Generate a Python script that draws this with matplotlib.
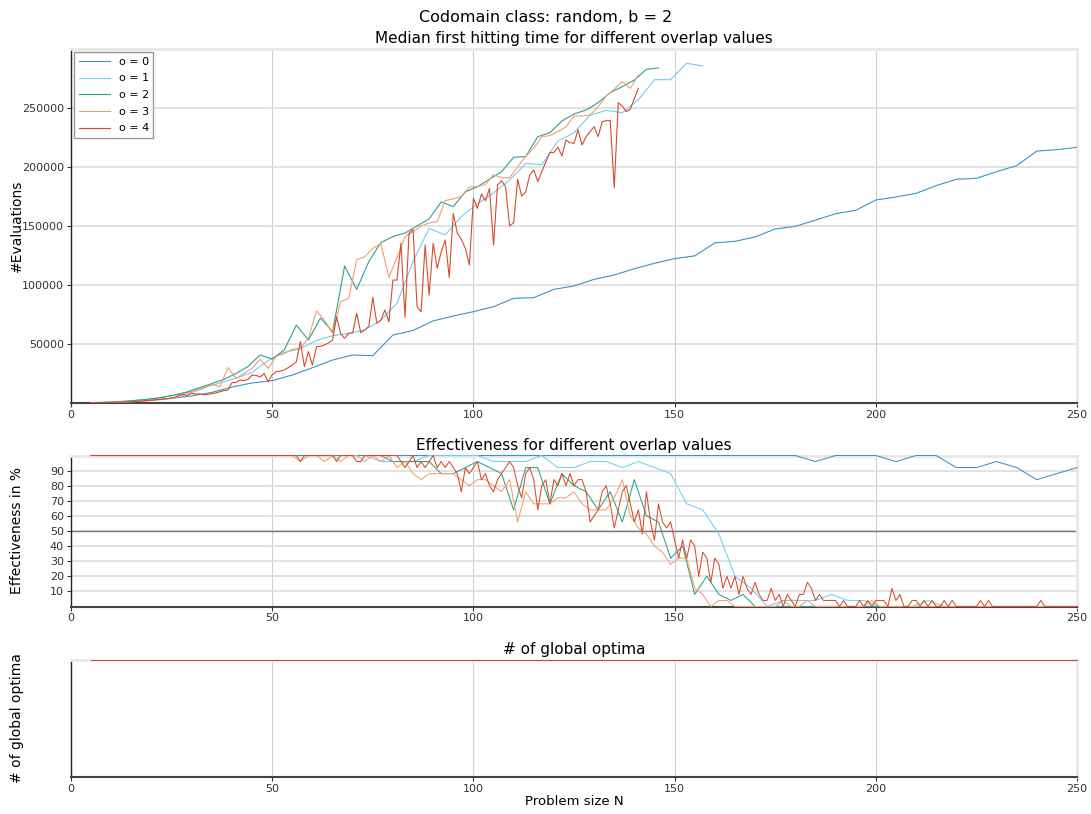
import matplotlib
matplotlib.use("Agg")
import matplotlib.pyplot as plt

# ---- data ----
overlaps = [0, 1, 2, 3, 4]
colors = ["#3a93c8", "#6ccff6", "#2aa38b", "#f59d6e", "#d84b2a"]

# x positions (problem size N) per overlap value
n_o0 = list(range(5, 251, 5))
n_o1 = list(range(5, 250, 4))
n_o2 = list(range(5, 249, 3))
n_o3 = list(range(5, 250, 2))
n_o4 = list(range(5, 251, 1))

# median first hitting time (only shown while effectiveness >= 50 %)
hit_o0 = [100, 500, 1200, 2500, 4000, 6000, 9000, 13500, 17000, 18900,
          23700, 29900, 36400, 40700, 40100, 57600, 61500, 69600, 73700, 77400,
          81600, 88700, 89300, 96300, 99200, 104800, 108500, 113800, 118400, 122300,
          124700, 135700, 137000, 140700, 147500, 149700, 155000, 160400, 163300, 172000,
          174600, 177700, 184200, 189600, 190400, 196000, 201100, 213500, 214700, 216700]
hit_o1 = [300, 800, 1500, 2500, 4000, 6000, 9000, 13000, 17000, 21000,
          26000, 36000, 43000, 46000, 53000, 57000, 59000, 62000, 70000, 84500,
          120000, 148000, 142400, 158000, 169000, 178000, 189000, 203000, 202000, 222000,
          229000, 244000, 248000, 246000, 257000, 274000, 274000, 288000, 285500]
hit_o2 = [300, 500, 900, 1500, 2500, 3500, 5000, 7000, 9500, 13000,
          16500, 20000, 25000, 31000, 40700, 37300, 45000, 66000, 53400, 72000,
          60400, 116000, 96300, 119700, 136000, 141000, 144000, 150000, 156000, 170500,
          166400, 179000, 183300, 189600, 196000, 208200, 208800, 225700, 229100, 239000,
          244900, 248300, 254500, 263000, 268100, 273700, 282800, 283900]
hit_o3 = [200, 300, 400, 600, 800, 1000, 1500, 2000, 2500, 3000,
          4000, 5500, 8200, 10000, 12500, 16000, 13800, 30000, 21000, 25000,
          29400, 37000, 29400, 39500, 42000, 45500, 46300, 55000, 78000, 70300,
          59000, 85900, 88700, 121500, 124000, 131000, 135000, 106500, 123400, 141000,
          145000, 150000, 152500, 153700, 171500, 173000, 175000, 183000, 183500, 185000,
          193500, 191000, 191000, 200000, 209000, 216000, 225700, 226600, 230000, 234000,
          243200, 243200, 244000, 251000, 260000, 266000, 272300, 266700, 278000]
hit_o4 = [200, 250, 300, 350, 400, 500, 600, 700, 800, 1000,
          1100, 1300, 1500, 1800, 2000, 2300, 2700, 3000, 3400, 3800,
          4200, 5000, 6800, 7000, 6500, 8200, 7500, 7800, 7000, 7200,
          8000, 8500, 9500, 10500, 11000, 17200, 17500, 19500, 19000, 20000,
          23700, 23400, 22000, 25000, 18100, 24000, 26500, 27000, 28000, 30000,
          32200, 35000, 52000, 30800, 43500, 32200, 47700, 48000, 49200, 51000,
          53400, 73100, 59000, 54800, 59000, 59500, 76000, 59600, 61900, 65000,
          89600, 67500, 70300, 78800, 68900, 104200, 104200, 135300, 72600, 143800,
          147000, 81600, 77400, 133900, 91500, 135300, 114200, 128200, 138100, 106500,
          160700, 143800, 138700, 131100, 117000, 173500, 165000, 177100, 171400, 181900,
          133900, 184700, 188400, 183300, 150000, 152800, 189600, 175400, 179100, 193200,
          197500, 187600, 196000, 204500, 212200, 212400, 216700, 209300, 222900, 220600,
          220100, 231400, 218600, 225700, 230000, 234200, 225700, 238400, 239300, 239300,
          182500, 254500, 251700, 246900, 248900, 258200, 266700]

# effectiveness in %
eff_o0 = [100, 100, 100, 100, 100, 100, 100, 100, 100, 100,
          100, 100, 100, 100, 100, 100, 100, 100, 100, 100,
          100, 100, 100, 100, 100, 100, 100, 100, 100, 100,
          100, 100, 100, 100, 100, 100, 96, 100, 100, 100,
          96, 100, 100, 92, 92, 96, 92, 84, 88, 92]
eff_o1 = [100, 100, 100, 100, 100, 100, 100, 100, 100, 100,
          100, 100, 100, 100, 100, 100, 100, 100, 96, 96,
          96, 100, 100, 100, 100, 96, 96, 96, 100, 92,
          92, 96, 96, 92, 96, 92, 88, 68, 64, 48,
          20, 12, 0, 4, 4, 4, 8, 4, 4, 0,
          0, 0, 4, 0, 0, 0, 0, 0, 0, 0,
          0, 0]
eff_o2 = [100, 100, 100, 100, 100, 100, 100, 100, 100, 100,
          100, 100, 100, 100, 100, 100, 100, 100, 100, 100,
          100, 100, 100, 100, 100, 96, 96, 96, 96, 88,
          88, 92, 96, 92, 88, 64, 92, 92, 68, 88,
          80, 76, 64, 76, 56, 84, 60, 56, 32, 40,
          8, 20, 8, 4, 8, 0, 0, 0, 0, 0,
          0, 0, 0, 0, 0, 0, 0, 0, 0, 0,
          0, 0, 0, 0, 0, 0, 0, 0, 0, 0,
          0, 0]
eff_o3 = [100, 100, 100, 100, 100, 100, 100, 100, 100, 100,
          100, 100, 100, 100, 100, 100, 100, 100, 100, 100,
          100, 100, 100, 100, 100, 100, 96, 100, 100, 96,
          100, 96, 100, 100, 96, 100, 96, 100, 92, 96,
          88, 84, 88, 88, 88, 88, 84, 80, 84, 84,
          80, 76, 84, 56, 76, 68, 68, 68, 72, 72,
          76, 68, 64, 64, 64, 72, 84, 60, 52, 48,
          40, 36, 28, 32, 32, 12, 8, 0, 4, 4,
          0, 0, 0, 0, 0, 0, 4, 0, 0, 4,
          0, 0, 0, 0, 0, 0, 0, 4, 0, 0,
          0, 0, 0, 0, 0, 0, 0, 0, 0, 0,
          0, 0, 0, 0, 0, 0, 0, 0, 0, 0,
          0, 0, 0]
eff_o4 = [100, 100, 100, 100, 100, 100, 100, 100, 100, 100,
          100, 100, 100, 100, 100, 100, 100, 100, 100, 100,
          100, 100, 100, 100, 100, 100, 100, 100, 100, 100,
          100, 100, 100, 100, 100, 100, 100, 100, 100, 100,
          100, 100, 100, 100, 100, 100, 100, 100, 100, 100,
          100, 100, 96, 100, 100, 100, 100, 100, 100, 100,
          100, 96, 100, 100, 100, 100, 96, 96, 100, 100,
          100, 100, 100, 100, 100, 100, 100, 96, 92, 96,
          100, 92, 96, 92, 96, 100, 92, 96, 92, 96,
          92, 88, 76, 92, 88, 92, 96, 84, 88, 80,
          76, 84, 88, 92, 96, 92, 80, 72, 88, 92,
          84, 64, 80, 84, 68, 84, 80, 88, 80, 88,
          80, 84, 84, 76, 56, 60, 64, 76, 80, 68,
          52, 64, 76, 80, 68, 56, 64, 48, 76, 56,
          44, 68, 56, 52, 56, 44, 32, 44, 32, 44,
          40, 20, 36, 32, 16, 32, 28, 12, 20, 12,
          20, 8, 20, 12, 8, 16, 8, 4, 4, 12,
          4, 8, 0, 8, 4, 0, 8, 8, 16, 12,
          4, 8, 4, 4, 4, 4, 0, 4, 0, 0,
          0, 4, 0, 4, 0, 4, 4, 4, 0, 12,
          4, 8, 0, 0, 4, 4, 0, 4, 0, 4,
          0, 0, 4, 0, 4, 0, 0, 0, 0, 0,
          0, 4, 0, 4, 0, 0, 0, 0, 0, 0,
          0, 0, 0, 0, 0, 0, 4, 0, 0, 0,
          0, 0, 0, 0, 0, 0]

# number of global optima (constant 1 over the whole range)
optima_n = [5, 250]
optima_count = [1, 1]

hit_x = [n_o0, n_o1[:len(hit_o1)], n_o2[:len(hit_o2)], n_o3[:len(hit_o3)], n_o4[:len(hit_o4)]]
hit_y = [hit_o0, hit_o1, hit_o2, hit_o3, hit_o4]
eff_x = [n_o0, n_o1, n_o2, n_o3, n_o4]
eff_y = [eff_o0, eff_o1, eff_o2, eff_o3, eff_o4]

x_ticks = [0, 50, 100, 150, 200, 250]
hit_ticks = [50000, 100000, 150000, 200000, 250000]
eff_ticks = [10, 20, 30, 40, 50, 60, 70, 80, 90]


def style(ax):
    ax.set_xlim(0, 250)
    ax.set_xticks(x_ticks)
    for s in ["top", "right"]:
        ax.spines[s].set_color("#e8e8e8")
        ax.spines[s].set_linewidth(2)
    ax.spines["left"].set_color("#222222")
    ax.spines["left"].set_linewidth(1)
    ax.spines["bottom"].set_color("#444444")
    ax.spines["bottom"].set_linewidth(1.5)
    ax.grid(axis="y", color="#dddddd", lw=1.2)
    ax.grid(axis="x", color="#d0d0d0", lw=0.8)
    ax.tick_params(labelsize=8, length=3, pad=2, color="#333333", labelcolor="#333333")
    ax.set_axisbelow(True)
    ax.yaxis.set_label_coords(-0.047, 0.5)


W, H = 1091, 814
fig = plt.figure(figsize=(W / 100, H / 100), dpi=100)
# axes boxes placed so the 0 / 100 % lines sit on pixel centres
ax1 = fig.add_axes([71 / W, 411.0 / H, 1006 / W, 354.0 / H])
ax2 = fig.add_axes([71 / W, 207.5 / H, 1006 / W, 151.0 / H])
ax3 = fig.add_axes([71 / W, 37.0 / H, 1006 / W, 117.5 / H])

fig.suptitle("Codomain class: random, b = 2", fontsize=11.5, y=0.988)

# top: median first hitting time
for o, c, xs, ys in zip(overlaps, colors, hit_x, hit_y):
    ax1.plot(xs, ys, color=c, lw=0.8, label="o = %d" % o, zorder=3)
ax1.set_ylim(0, 300000)
ax1.set_yticks(hit_ticks)
ax1.set_yticklabels([str(t) for t in hit_ticks])
ax1.set_ylabel("#Evaluations", fontsize=10)
ax1.set_title("Median first hitting time for different overlap values", fontsize=11, pad=4)
style(ax1)
ax1.legend(loc="upper left", fontsize=8, fancybox=False, edgecolor="#999999",
           framealpha=1, handlelength=2.8, borderaxespad=0.3, labelspacing=0.6)

# middle: effectiveness
ax2.axhline(50, color="#777777", lw=1, zorder=1)
for o, c, xs, ys in zip(overlaps, colors, eff_x, eff_y):
    ax2.plot(xs, ys, color=c, lw=0.75, clip_on=False, zorder=3)
ax2.set_ylim(0, 100)
ax2.set_yticks(eff_ticks)
ax2.set_ylabel("Effectiveness in %", fontsize=10)
ax2.set_title("Effectiveness for different overlap values", fontsize=11, pad=4)
style(ax2)

# bottom: number of global optima
for o, c in zip(overlaps, colors):
    ax3.plot(optima_n, optima_count, color=c, lw=0.72, clip_on=False, zorder=3,
             antialiased=False)
ax3.set_ylim(0, 1)
ax3.set_yticks([])
ax3.set_ylabel("# of global optima", fontsize=10)
ax3.set_xlabel("Problem size N", fontsize=9.5, labelpad=1)
ax3.set_title("# of global optima", fontsize=11, pad=4)
style(ax3)

fig.savefig("out.png", dpi=100)
